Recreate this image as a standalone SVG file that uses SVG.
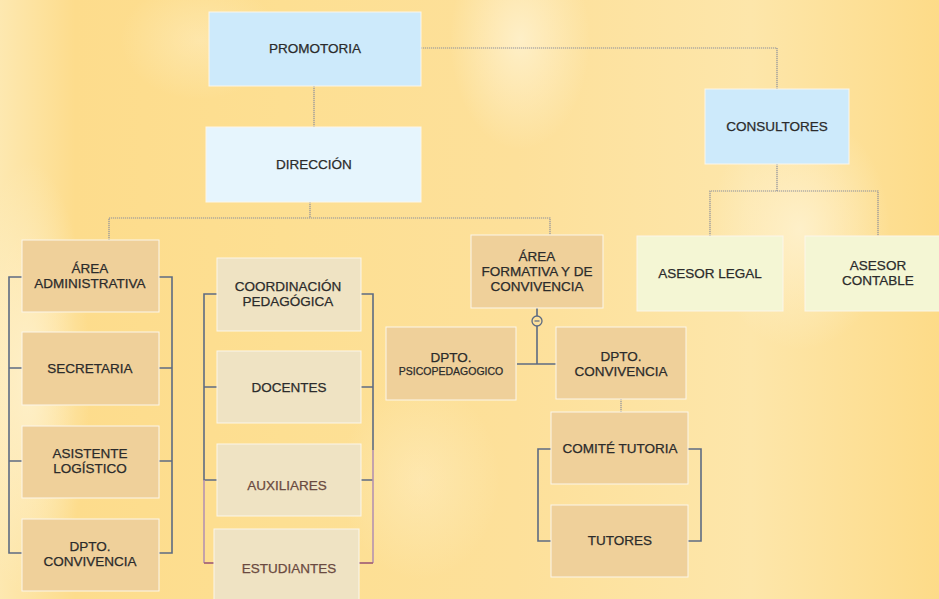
<svg xmlns="http://www.w3.org/2000/svg" width="939" height="599" viewBox="0 0 939 599">
<defs>
<linearGradient id="bg" x1="0" y1="0" x2="1" y2="0">
<stop offset="0" stop-color="#fde8b0"/>
<stop offset="0.08" stop-color="#fddc8c"/>
<stop offset="0.3" stop-color="#fddf92"/>
<stop offset="0.55" stop-color="#fde09a"/>
<stop offset="0.8" stop-color="#fde6aa"/>
<stop offset="1" stop-color="#fddb88"/>
</linearGradient>
<radialGradient id="glow" cx="0.5" cy="0.5" r="0.5">
<stop offset="0" stop-color="#fff4d6" stop-opacity="0.75"/>
<stop offset="1" stop-color="#fff4d6" stop-opacity="0"/>
</radialGradient>
<style>
.box{stroke:#fbf6ea;stroke-width:1}
.blue{fill:#cdeafb}
.lblue{fill:#e6f5fd}
.tan{fill:#efd09a}
.beige{fill:#efe3c3}
.green{fill:#f4f6d4}
text{font-family:"Liberation Sans",Arial,sans-serif;font-size:13.5px;fill:#2b2b2b;stroke:#2b2b2b;stroke-width:0.25;text-anchor:middle}
.brown{fill:#6a4a40;stroke:#6a4a40}
.dot{fill:none;stroke:#8c8f9c;stroke-width:1.2;stroke-dasharray:1.2 0.8}
.br{fill:none;stroke:#5d6b82;stroke-width:1.6}
.pk{fill:none;stroke:#b593b0;stroke-width:1.6}
.pk2{fill:none;stroke:#a86878;stroke-width:1.8}
</style>
</defs>
<rect width="939" height="599" fill="url(#bg)"/>
<ellipse cx="520" cy="40" rx="70" ry="110" fill="url(#glow)"/>
<ellipse cx="800" cy="230" rx="90" ry="120" fill="url(#glow)"/>
<ellipse cx="30" cy="380" rx="60" ry="220" fill="url(#glow)"/>
<ellipse cx="200" cy="40" rx="80" ry="60" fill="url(#glow)" opacity="0.5"/>
<ellipse cx="420" cy="480" rx="80" ry="100" fill="url(#glow)" opacity="0.5"/>

<g id="connectors">
<path class="dot" d="M314 86V127"/>
<path class="dot" d="M421 48H777V89"/>
<path class="dot" d="M310 202V218M109 240V218H550V235"/>
<path class="dot" d="M777 164V191M710 236V191H878V236"/>
<path class="dot" d="M621 399V412"/>
<path class="br" d="M537 308V316M537 326V364M517 364H556"/>
<circle cx="537" cy="321" r="5" fill="none" stroke="#5d6b82" stroke-width="1.3"/>
<path d="M534.5 321H539.5" stroke="#5d6b82" stroke-width="1.2"/>
<path class="br" d="M22 277H9V553H22M22 368H9M22 461H9"/>
<path class="br" d="M159 277H172V553H159M159 368H172M159 461H172"/>
<path class="br" d="M217 294H204V480H217M217 387H204"/>
<path class="pk" d="M204 480V563"/>
<path class="pk2" d="M204 563H214"/>
<path class="br" d="M361 294H373V450M361 387H373M361 480H373"/>
<path class="pk" d="M373 450V563"/>
<path class="pk2" d="M359 563H373"/>
<path class="br" d="M551 449H538V541H551M688 449H701V541H688"/>
</g>

<g id="promotoria"><rect class="box blue" x="209" y="12" width="212" height="74"/><text x="315" y="53">PROMOTORIA</text></g>
<g id="direccion"><rect class="box lblue" x="206" y="127" width="215" height="75"/><text x="314" y="169">DIRECCIÓN</text></g>
<g id="consultores"><rect class="box blue" x="705" y="89" width="144" height="75"/><text x="777" y="131">CONSULTORES</text></g>
<g id="asesor-legal"><rect class="box green" x="637" y="236" width="146" height="75"/><text x="710" y="278">ASESOR LEGAL</text></g>
<g id="asesor-contable"><rect class="box green" x="805" y="236" width="140" height="75"/><text x="878" y="270">ASESOR</text><text x="878" y="285">CONTABLE</text></g>

<g id="area-administrativa"><rect class="box tan" x="22" y="240" width="137" height="72"/><text x="90" y="273">ÁREA</text><text x="90" y="288">ADMINISTRATIVA</text></g>
<g id="secretaria"><rect class="box tan" x="22" y="332" width="137" height="73"/><text x="90" y="373">SECRETARIA</text></g>
<g id="asistente-logistico"><rect class="box tan" x="22" y="426" width="137" height="72"/><text x="90" y="458">ASISTENTE</text><text x="90" y="473">LOGÍSTICO</text></g>
<g id="dpto-convivencia-1"><rect class="box tan" x="22" y="519" width="137" height="72"/><text x="90" y="551">DPTO.</text><text x="90" y="566">CONVIVENCIA</text></g>

<g id="coordinacion"><rect class="box beige" x="217" y="258" width="144" height="73"/><text x="288" y="291">COORDINACIÓN</text><text x="288" y="306">PEDAGÓGICA</text></g>
<g id="docentes"><rect class="box beige" x="217" y="351" width="144" height="72"/><text x="289" y="392">DOCENTES</text></g>
<g id="auxiliares"><rect class="box beige" x="217" y="444" width="144" height="72"/><text class="brown" x="287" y="490">AUXILIARES</text></g>
<g id="estudiantes"><rect class="box beige" x="214" y="529" width="145" height="75"/><text class="brown" x="289" y="573">ESTUDIANTES</text></g>

<g id="area-formativa"><rect class="box tan" x="471" y="235" width="132" height="73"/><text x="537" y="261">ÁREA</text><text x="537" y="276">FORMATIVA Y DE</text><text x="537" y="291">CONVIVENCIA</text></g>
<g id="dpto-psicopedagogico"><rect class="box tan" x="386" y="327" width="130" height="73"/><text x="451" y="362">DPTO.</text><text x="451" y="375" style="font-size:10.5px">PSICOPEDAGOGICO</text></g>
<g id="dpto-convivencia-2"><rect class="box tan" x="556" y="327" width="130" height="72"/><text x="621" y="361">DPTO.</text><text x="621" y="376">CONVIVENCIA</text></g>
<g id="comite-tutoria"><rect class="box tan" x="551" y="412" width="137" height="72"/><text x="620" y="453">COMITÉ TUTORIA</text></g>
<g id="tutores"><rect class="box tan" x="551" y="505" width="137" height="72"/><text x="620" y="545">TUTORES</text></g>
</svg>
